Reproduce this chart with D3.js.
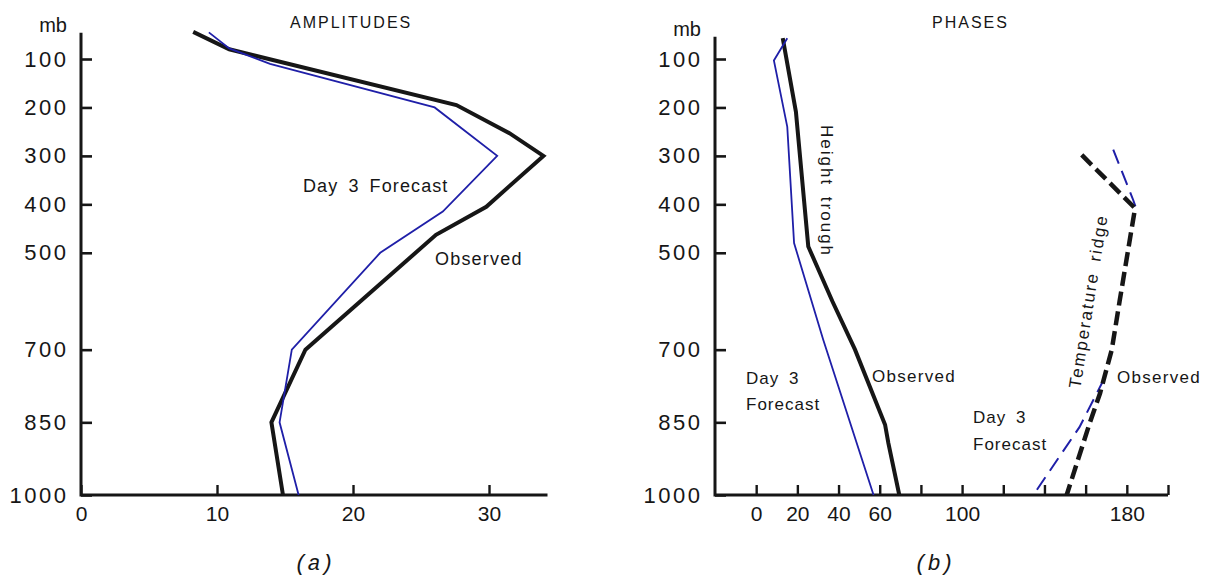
<!DOCTYPE html>
<html><head><meta charset="utf-8">
<script src="https://cdn.jsdelivr.net/npm/d3@7"></script>
<style>
html,body{margin:0;padding:0;background:#fff;}
svg{display:block;}
text{font-family:"Liberation Sans",Arial,Helvetica,sans-serif;fill:#161616;}
</style></head><body>
<svg id="chart" width="1219" height="577"></svg>
<script>
// Pressure levels (mb) on both vertical axes
const pressureTicks = [100, 200, 300, 400, 500, 700, 850, 1000];
const amplitudeTicks = [0, 10, 20, 30];
const phaseTicks = [0, 20, 40, 60, 80, 100, 120, 140, 160, 180, 200];
const phaseTickLabels = [0, 20, 40, 60, 100, 180];

// (a) amplitudes
const ampObservedP = [44, 80, 195, 253, 300, 405, 463, 700, 850, 1000];
const ampObservedV = [8.25, 10.9, 27.6, 31.5, 34.0, 29.8, 26.1, 16.5, 14.0, 14.85];
const ampForecastP = [45, 78, 110, 200, 300, 415, 500, 700, 850, 1000];
const ampForecastV = [9.4, 10.9, 13.9, 26.0, 30.6, 26.6, 22.0, 15.5, 14.6, 16.0];

// (b) phases: height trough
const troughObservedP = [57, 209, 487, 600, 700, 855, 893, 1000];
const troughObservedV = [12.9, 19.3, 25.3, 37.0, 48.0, 62.6, 64.2, 69.5];
const troughForecastP = [57, 103, 240, 480, 680, 1000];
const troughForecastV = [15.1, 8.6, 15.1, 18.4, 32.6, 57.0];

// (b) phases: temperature ridge
const ridgeObservedP = [298, 408, 500, 600, 700, 790, 850, 1000];
const ridgeObservedV = [158.1, 184.0, 180.4, 176.5, 172.7, 167.0, 162.1, 150.8];
const ridgeForecastP = [287, 391, 412, 500, 600, 700, 760, 860, 1000];
const ridgeForecastV = [173.4, 183.1, 184.8, 180.4, 176.5, 172.7, 169.0, 157.0, 134.6];
// between these levels the forecast lies on the observed curve and is drawn once
const ridgeSharedFrom = 412, ridgeSharedTo = 760;

const INK = "#161616";
const BLUE = "#1f1fa8";

const svg = d3.select("#chart");

const y = d3.scaleLinear().domain([0, 1000]).range([10.56, 495]);
const xAmp = d3.scaleLinear().domain([0, 34.3]).range([81, 547.5]);
const xPhase = d3.scaleLinear().domain([-20, 200]).range([715, 1168]);

const zip = (P, V) => P.map((p, i) => ({p, v: V[i]}));

function drawFrame(x, topP, xTicks, xLabels) {
  // vertical pressure axis
  const ya = svg.append("g")
    .attr("transform", `translate(${x.range()[0]},0)`)
    .call(d3.axisLeft(y).tickValues(pressureTicks).tickFormat(d3.format("d"))
      .tickSizeInner(-11).tickSizeOuter(0).tickPadding(12.5));
  ya.select(".domain").remove();
  ya.selectAll(".tick line").attr("stroke", INK).attr("stroke-width", 2.6);
  ya.selectAll(".tick text")
    .attr("fill", INK).style("font-size", "22px").style("letter-spacing", "2.5px")
    .attr("font-family", null);

  // horizontal axis at 1000 mb
  const xa = svg.append("g")
    .attr("transform", `translate(0,${y(1000)})`)
    .call(d3.axisBottom(x).tickValues(xTicks)
      .tickSizeInner(-10).tickSizeOuter(0).tickPadding(11)
      .tickFormat(d => xLabels.includes(d) ? d : ""));
  xa.select(".domain").remove();
  xa.selectAll(".tick line").attr("stroke", INK).attr("stroke-width", 2.4);
  xa.selectAll(".tick text")
    .attr("fill", INK).style("font-size", "21px").attr("font-family", null);

  // axis lines
  const [x0, x1] = x.range();
  svg.append("path")
    .attr("d", `M${x0},${y(topP)}V${y(1000)}H${x1}`)
    .attr("fill", "none").attr("stroke", INK).attr("stroke-width", 3)
    .attr("stroke-linejoin", "miter");

  svg.append("text").attr("x", x0 - 14).attr("y", y(topP) - 1)
    .attr("text-anchor", "end").style("font-size", "20px").text("mb");
}

drawFrame(xAmp, 46, amplitudeTicks, amplitudeTicks);
drawFrame(xPhase, 54, phaseTicks, phaseTickLabels);

function curve(x, P, V, opts) {
  const line = d3.line().x(d => x(d.v)).y(d => y(d.p));
  if (opts.defined) line.defined(opts.defined);
  svg.append("path")
    .datum(zip(P, V))
    .attr("d", line)
    .attr("fill", "none")
    .attr("stroke", opts.color)
    .attr("stroke-width", opts.width)
    .attr("stroke-linejoin", "miter")
    .attr("stroke-miterlimit", 10)
    .attr("stroke-dasharray", opts.dash || null);
}

// (a)
curve(xAmp, ampObservedP, ampObservedV, {color: INK, width: 4});
curve(xAmp, ampForecastP, ampForecastV, {color: BLUE, width: 1.8});

// (b) height trough
curve(xPhase, troughObservedP, troughObservedV, {color: INK, width: 4});
curve(xPhase, troughForecastP, troughForecastV, {color: BLUE, width: 1.8});

// (b) temperature ridge (dashed)
curve(xPhase, ridgeForecastP, ridgeForecastV, {color: BLUE, width: 2, dash: "15,8",
  defined: d => d.p <= ridgeSharedFrom || d.p >= ridgeSharedTo});
curve(xPhase, ridgeObservedP, ridgeObservedV, {color: INK, width: 4.5, dash: "14,6"});

// titles
function label(x, yPos, str, size, extra) {
  const t = svg.append("text").attr("x", x).attr("y", yPos)
    .style("font-size", size + "px").text(str);
  if (extra) extra(t);
  return t;
}
label(290, 28, "AMPLITUDES", 16, t => t.style("letter-spacing", "2px"));
label(932, 28, "PHASES", 16, t => t.style("letter-spacing", "2px"));

// annotations, panel (a)
label(303, 192, "Day 3 Forecast", 18, t => t.style("letter-spacing", "1.1px").style("word-spacing", "4px"));
label(435, 265, "Observed", 18, t => t.style("letter-spacing", "1.2px"));

// annotations, panel (b)
label(746, 384, "Day 3", 17, t => t.style("letter-spacing", "1px").style("word-spacing", "4px"));
label(746, 410, "Forecast", 17, t => t.style("letter-spacing", "1px"));
label(872, 382, "Observed", 17, t => t.style("letter-spacing", "1.3px"));
label(973, 423, "Day 3", 17, t => t.style("letter-spacing", "1px").style("word-spacing", "4px"));
label(973, 450, "Forecast", 17, t => t.style("letter-spacing", "1px"));
label(1117, 383, "Observed", 17, t => t.style("letter-spacing", "1.3px"));

svg.append("text")
  .attr("transform", "translate(821,191) rotate(90)")
  .attr("text-anchor", "middle")
  .style("font-size", "17px").style("letter-spacing", "2px").style("word-spacing", "4px")
  .text("Height trough");

svg.append("text")
  .attr("transform", "translate(1094,302) rotate(-81)")
  .attr("text-anchor", "middle")
  .style("font-size", "17px").style("letter-spacing", "2px").style("word-spacing", "4px")
  .text("Temperature ridge");

// panel letters
svg.append("text").attr("x", 314).attr("y", 570).attr("text-anchor", "middle")
  .style("font-family", "'Liberation Mono','DejaVu Sans Mono',monospace")
  .style("font-style", "italic").style("font-size", "22px").text("(a)");
svg.append("text").attr("x", 934).attr("y", 570).attr("text-anchor", "middle")
  .style("font-family", "'Liberation Mono','DejaVu Sans Mono',monospace")
  .style("font-style", "italic").style("font-size", "22px").text("(b)");
</script>
</body></html>
